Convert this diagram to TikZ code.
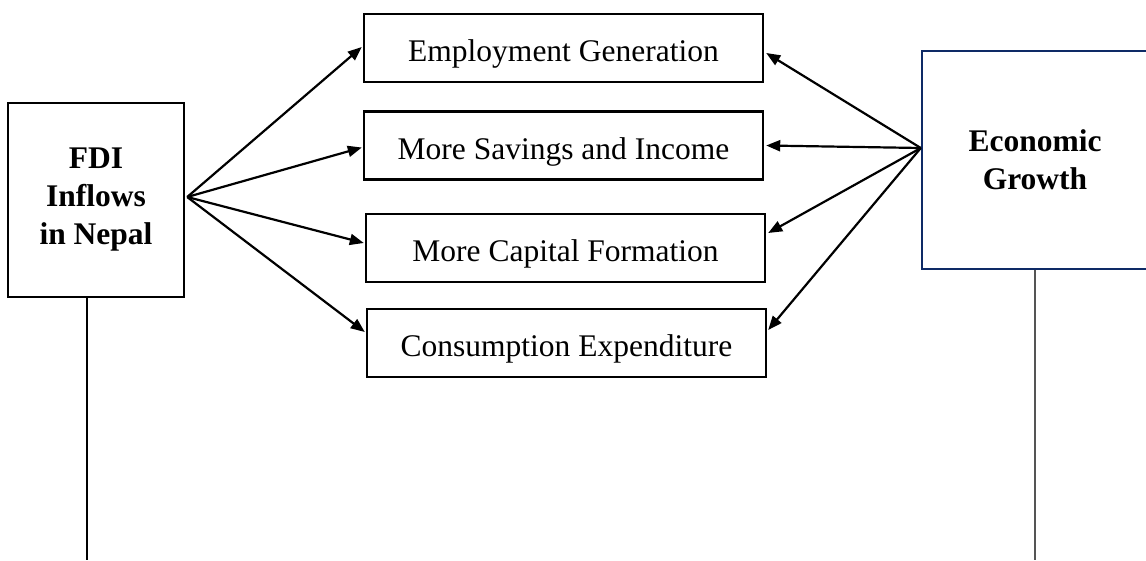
\documentclass[tikz,border=0pt]{standalone}
\usepackage{fontspec}
\setmainfont{Liberation Serif}
\usetikzlibrary{arrows.meta}
\definecolor{navy}{HTML}{0E2A66}
\definecolor{stem}{HTML}{555555}
\begin{document}
\begin{tikzpicture}[x=1pt,y=-1pt,
  mid/.style={draw,line width=2.4pt,minimum width=399pt,minimum height=68pt,inner sep=0pt,
    text height=30pt,text depth=3pt,font=\fontsize{31.5}{40}\selectfont},
  side/.style={draw,line width=2.4pt,inner sep=0pt,align=center,
    font=\fontsize{31.5}{38}\selectfont\bfseries},
  link/.style={line width=2.2pt,-{Triangle[length=14pt,width=11pt]}}]
\useasboundingbox (0,0) rectangle (1146,560);
\clip (0,0) rectangle (1146,560);

% source and outcome boxes
\node[side,minimum width=176pt,minimum height=194pt] (fdi) at (96,200) {FDI\\Inflows\\in Nepal};
\node[side,draw=navy,minimum width=226pt,minimum height=218pt] (eg) at (1035,160) {Economic\\Growth};

% channel boxes
\node[mid] (emp) at (563.5,48) {Employment Generation};
\node[mid] (sav) at (563.5,145.5) {More Savings and Income};
\node[mid] (cap) at (565.5,248) {More Capital Formation};
\node[mid] (con) at (566.5,343) {Consumption Expenditure};

% fan points on the box edges
\coordinate (fan) at ([xshift=2pt,yshift=3pt]fdi.east);
\coordinate (gan) at ([yshift=12pt]eg.west);

\draw[link] (fan) -- ([xshift=-1pt,yshift=1pt]emp.west);
\draw[link] (fan) -- ([xshift=-1pt,yshift=-2pt]sav.west);
\draw[link] (fan) -- ([xshift=-1pt,yshift=5pt]cap.west);
\draw[link] (fan) -- ([xshift=-1pt,yshift=11pt]con.west);

\draw[link] (gan) -- ([xshift=2pt,yshift=-5pt]emp.east);
\draw[link] (gan) -- ([xshift=2pt]sav.east);
\draw[link] (gan) -- ([xshift=2pt,yshift=15pt]cap.east);
\draw[link] (gan) -- ([xshift=1pt,yshift=13pt]con.east);

% stems below the two outer boxes
\coordinate (lfoot) at (87,560);
\coordinate (rfoot) at (1035,560);
\draw[line width=1.3pt] (fdi.south -| lfoot) -- (lfoot);
\draw[stem,line width=1.6pt] (eg.south) -- (rfoot);
\end{tikzpicture}
\end{document}
